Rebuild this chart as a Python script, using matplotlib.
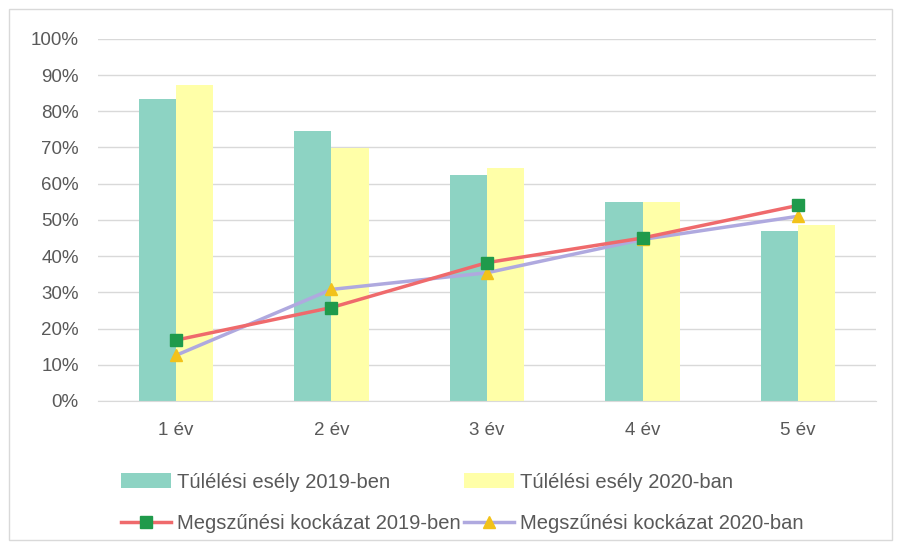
import numpy as np
import matplotlib.pyplot as plt
from matplotlib.patches import Rectangle

plt.rcParams['font.family'] = ['Liberation Sans', 'DejaVu Sans']

categories = ['1 év', '2 év', '3 év', '4 év', '5 év']
surv_2019 = [83.5, 74.5, 62.3, 55.0, 46.8]
surv_2020 = [87.3, 69.8, 64.3, 55.0, 48.6]
risk_2019 = [16.8, 25.8, 38.2, 45.0, 54.0]
risk_2020 = [12.6, 30.8, 35.4, 44.6, 51.0]

c_bar19 = '#8DD3C3'
c_bar20 = '#FFFFA8'
c_line19 = '#EF6A6C'
c_line20 = '#AFA9DF'
c_mk19 = '#1F9A4B'
c_mk20 = '#F2C21A'
grey = '#595959'

fig = plt.figure(figsize=(9.01, 5.47), dpi=100)
fig.patches.append(Rectangle((0.010, 0.012), 0.980, 0.972, transform=fig.transFigure,
                             fill=False, edgecolor='#D9D9D9', lw=1))
ax = fig.add_axes([0.109, 0.267, 0.863, 0.662])

x = np.arange(len(categories))
w = 0.24
b1 = ax.bar(x - w / 2, surv_2019, w, color=c_bar19, zorder=2)
b2 = ax.bar(x + w / 2, surv_2020, w, color=c_bar20, zorder=2)
l1, = ax.plot(x, risk_2019, color=c_line19, lw=2.5, marker='s', ms=8,
              mfc=c_mk19, mec=c_mk19, zorder=4)
l2, = ax.plot(x, risk_2020, color=c_line20, lw=2.5, marker='^', ms=8,
              mfc=c_mk20, mec=c_mk20, zorder=3)

ax.set_ylim(0, 100)
ax.set_xlim(-0.5, 4.5)
ax.set_yticks(np.arange(0, 101, 10))
ax.set_yticklabels([f'{v}%' for v in range(0, 101, 10)])
ax.set_xticks(x)
ax.set_xticklabels(categories)
ax.grid(axis='y', color='#D9D9D9', lw=1, zorder=0)
ax.tick_params(length=0, colors=grey, labelsize=13.5)
ax.tick_params(axis='x', pad=15)
ax.tick_params(axis='y', pad=14)
for s in ['top', 'right', 'left']:
    ax.spines[s].set_visible(False)
ax.spines['bottom'].set_color('#D9D9D9')

fig.legend([b1, l1, b2, l2],
           ['Túlélési esély 2019-ben', 'Megszűnési kockázat 2019-ben',
            'Túlélési esély 2020-ban', 'Megszűnési kockázat 2020-ban'],
           ncol=2, loc='center left', bbox_to_anchor=(0.134, 0.081),
           frameon=False, fontsize=14.5, labelcolor=grey, handlelength=2.5,
           handleheight=0.75, handletextpad=0.3, columnspacing=0.15,
           labelspacing=1.1, borderpad=0, borderaxespad=0)

fig.savefig('out.png', dpi=100)
